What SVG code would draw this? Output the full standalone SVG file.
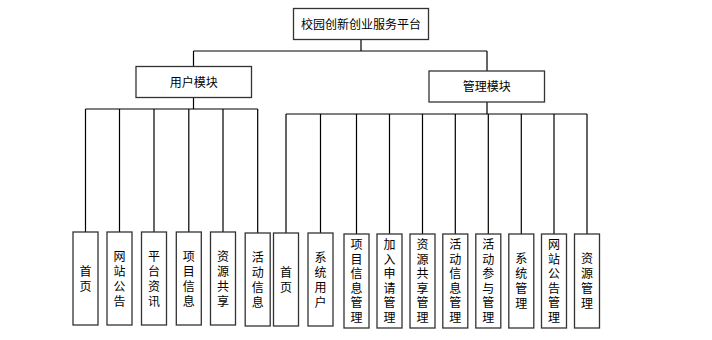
<svg xmlns="http://www.w3.org/2000/svg" width="712" height="340" viewBox="0 0 712 340">
<style>
.box{fill:#fff;stroke:#333;stroke-width:1.3}
.ln{fill:none;stroke:#000;stroke-width:1.2}
text{font-family:"Noto Sans CJK SC","Liberation Sans",sans-serif;font-size:12px;fill:#000;text-anchor:middle}
.v{writing-mode:vertical-rl;glyph-orientation-vertical:0}
.s2{letter-spacing:3.5px}
.s4{letter-spacing:3px}
.s6{letter-spacing:2.6px}
</style>
<rect width="712" height="340" fill="#fff"/>
<g id="connectors">
<path class="ln" d="M361 39V51M193.5 51H487M193.5 51V66M487 51V71"/>
<path class="ln" d="M193.5 97V109M85.5 109H257.7M85.5 109V232M119.5 109V232M154 109V232M188.8 109V232M223 109V232M257.7 109V233"/>
<path class="ln" d="M487 102V114M286 114H587M286 114V233M320.5 114V233M356.5 114V234M389.5 114V234M422.5 114V234M455.3 114V234M488.3 114V234M521.3 114V234M554 114V234M587 114V234"/>
</g>
<g id="root"><rect class="box" x="293.5" y="8.5" width="135" height="31"/><text x="361" y="28.5">校园创新创业服务平台</text></g>
<g id="user"><rect class="box" x="136" y="66.5" width="115.5" height="31"/><text x="193.7" y="86.5">用户模块</text></g>
<g id="admin"><rect class="box" x="429" y="71" width="115.5" height="31"/><text x="486.7" y="91">管理模块</text></g>
<g id="u1"><rect class="box" x="73" y="232" width="25" height="93"/><text class="v s2" x="85.5" y="280.5">首页</text></g>
<g id="u2"><rect class="box" x="107" y="232" width="25" height="93"/><text class="v s4" x="119.5" y="280">网站公告</text></g>
<g id="u3"><rect class="box" x="141.5" y="232" width="25" height="93"/><text class="v s4" x="154" y="280">平台资讯</text></g>
<g id="u4"><rect class="box" x="176.3" y="232" width="25" height="93"/><text class="v s4" x="188.8" y="280">项目信息</text></g>
<g id="u5"><rect class="box" x="210.5" y="232" width="25" height="93"/><text class="v s4" x="223" y="280">资源共享</text></g>
<g id="u6"><rect class="box" x="245.2" y="233" width="25" height="93"/><text class="v s4" x="257.7" y="281">活动信息</text></g>
<g id="a1"><rect class="box" x="273.5" y="233" width="25" height="93"/><text class="v s2" x="286" y="281.5">首页</text></g>
<g id="a2"><rect class="box" x="308" y="233" width="25" height="93"/><text class="v s4" x="320.5" y="281">系统用户</text></g>
<g id="a3"><rect class="box" x="344" y="234" width="25" height="94"/><text class="v s6" x="356.5" y="282.3">项目信息管理</text></g>
<g id="a4"><rect class="box" x="377" y="234" width="25" height="94"/><text class="v s6" x="389.5" y="282.3">加入申请管理</text></g>
<g id="a5"><rect class="box" x="410" y="234" width="25" height="94"/><text class="v s6" x="422.5" y="282.3">资源共享管理</text></g>
<g id="a6"><rect class="box" x="442.8" y="234" width="25" height="94"/><text class="v s6" x="455.3" y="282.3">活动信息管理</text></g>
<g id="a7"><rect class="box" x="475.8" y="234" width="25" height="94"/><text class="v s6" x="488.3" y="282.3">活动参与管理</text></g>
<g id="a8"><rect class="box" x="508.8" y="234" width="25" height="94"/><text class="v s4" x="521.3" y="282.5">系统管理</text></g>
<g id="a9"><rect class="box" x="541.5" y="234" width="25" height="94"/><text class="v s6" x="554" y="282.3">网站公告管理</text></g>
<g id="a10"><rect class="box" x="574.5" y="234" width="25" height="94"/><text class="v s4" x="587" y="282.5">资源管理</text></g>
</svg>
